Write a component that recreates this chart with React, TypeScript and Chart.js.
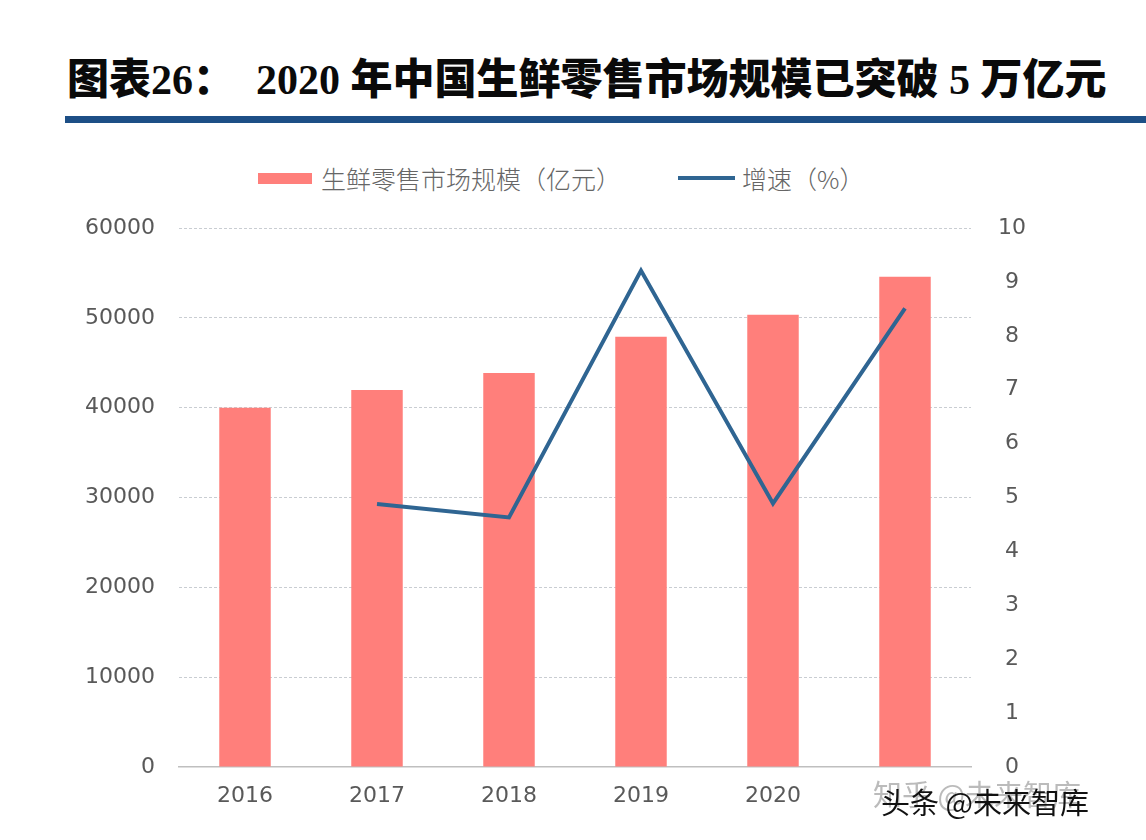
import React, { useEffect, useRef } from "react";
import { Chart, registerables } from "chart.js";

Chart.register(...registerables);

const categories = ["2016", "2017", "2018", "2019", "2020", ""];
const marketSize = [40000, 41970, 43860, 47900, 50350, 54580];
const growthRate = [null, 4.88, 4.63, 9.21, 4.89, 8.51];
const leftTicks = [0, 10000, 20000, 30000, 40000, 50000, 60000];
const rightTicks = [0, 1, 2, 3, 4, 5, 6, 7, 8, 9, 10];

const titleText = "图表26：  2020 年中国生鲜零售市场规模已突破 5 万亿元";
const barLabel = "生鲜零售市场规模（亿元）";
const lineLabel = "增速（%）";

const BAR_COLOR = "#FF7F7B";
const LINE_COLOR = "#2F6592";
const TICK_FONT = { family: "'DejaVu Sans', sans-serif", size: 22 };

export default function App() {
  const ref = useRef<HTMLCanvasElement | null>(null);

  useEffect(() => {
    if (!ref.current) return;
    const chart = new Chart(ref.current, {
      data: {
        labels: categories,
        datasets: [
          {
            type: "line",
            label: lineLabel,
            data: growthRate as any,
            yAxisID: "y1",
            borderColor: LINE_COLOR,
            backgroundColor: LINE_COLOR,
            borderWidth: 4,
            pointRadius: 0,
            tension: 0,
            order: 0,
          },
          {
            type: "bar",
            label: barLabel,
            data: marketSize,
            yAxisID: "y",
            backgroundColor: BAR_COLOR,
            barPercentage: 0.39,
            categoryPercentage: 1,
            order: 1,
          },
        ],
      },
      options: {
        responsive: false,
        animation: false,
        layout: { padding: { left: 0, right: 0, top: 28, bottom: 0 } },
        plugins: { legend: { display: false }, tooltip: { enabled: false } },
        scales: {
          x: {
            grid: { display: false },
            border: { display: true, color: "#BFBFBF", width: 1.5 },
            ticks: { font: TICK_FONT, color: "#595959", padding: 8 },
            afterFit: (s: any) => { s.height = 73; s.paddingLeft = 0; s.paddingRight = 0; },
          },
          y: {
            position: "left",
            min: 0,
            max: 60000,
            afterBuildTicks: (s: any) => { s.ticks = leftTicks.map((v) => ({ value: v })); },
            grid: {
              drawTicks: false,
              color: (ctx: any) => (ctx.tick && ctx.tick.value === 0 ? "rgba(0,0,0,0)" : "#C9CDD2"),
              lineWidth: 1,
            },
            border: { display: false, dash: [3, 2] },
            ticks: { font: TICK_FONT, color: "#595959", padding: 24, callback: (v: any) => String(v) },
            afterFit: (s: any) => { s.width = 179; s.paddingTop = 0; s.paddingBottom = 0; },
          },
          y1: {
            position: "right",
            min: 0,
            max: 10,
            afterBuildTicks: (s: any) => { s.ticks = rightTicks.map((v) => ({ value: v })); },
            grid: { drawOnChartArea: false, drawTicks: false },
            border: { display: false },
            ticks: { font: TICK_FONT, color: "#595959", padding: 27, crossAlign: "center", callback: (v: any) => String(v) },
            afterFit: (s: any) => { s.width = 175; s.paddingTop = 0; s.paddingBottom = 0; },
          },
        },
      },
    } as any);
    return () => chart.destroy();
  }, []);

  return (
    <div style={{ position: "fixed", left: 0, top: 0, width: 1146, height: 840, background: "#fff", overflow: "hidden" }}>
      <div
        style={{
          position: "absolute",
          left: 67,
          top: 55,
          height: 50,
          lineHeight: "50px",
          whiteSpace: "pre",
          fontFamily: "'Liberation Serif', 'Noto Sans CJK SC', serif",
          fontWeight: 900,
          fontSize: 42,
          color: "#0a0a0a",
        }}
      >
        {titleText}
      </div>
      <div style={{ position: "absolute", left: 65, top: 116, width: 1081, height: 7, background: "#1D4F86" }} />

      <div style={{ position: "absolute", left: 258, top: 173, width: 54, height: 11, background: BAR_COLOR }} />
      <div
        style={{
          position: "absolute",
          left: 321,
          top: 162,
          lineHeight: "32px",
          fontSize: 25,
          fontFamily: "'Noto Sans CJK SC', sans-serif",
          fontWeight: 300,
          color: "#666",
          whiteSpace: "pre",
        }}
      >
        {barLabel}
      </div>
      <div style={{ position: "absolute", left: 678, top: 176, width: 57, height: 4, background: LINE_COLOR }} />
      <div
        style={{
          position: "absolute",
          left: 742,
          top: 162,
          lineHeight: "32px",
          fontSize: 25,
          fontFamily: "'Noto Sans CJK SC', sans-serif",
          fontWeight: 300,
          color: "#666",
          whiteSpace: "pre",
        }}
      >
        {lineLabel}
      </div>

      <canvas ref={ref} width={1146} height={640} style={{ position: "absolute", left: 0, top: 200, width: 1146, height: 640 }} />

      <div
        style={{
          position: "absolute",
          left: 873,
          top: 776,
          fontSize: 29,
          lineHeight: "34px",
          fontFamily: "'Noto Sans CJK SC', sans-serif",
          color: "rgba(120,120,120,0.5)",
          whiteSpace: "pre",
        }}
      >
        知乎 @未来智库
      </div>
      <div
        style={{
          position: "absolute",
          left: 881,
          top: 784,
          fontSize: 29,
          lineHeight: "34px",
          fontFamily: "'Noto Sans CJK SC', sans-serif",
          color: "#111",
          whiteSpace: "pre",
        }}
      >
        头条 @未来智库
      </div>
    </div>
  );
}
